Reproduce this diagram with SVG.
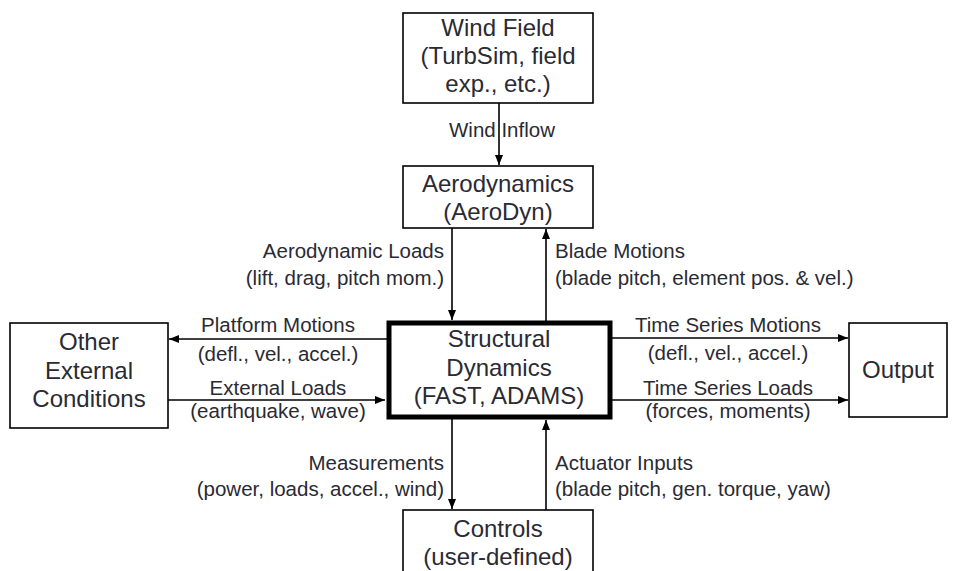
<svg xmlns="http://www.w3.org/2000/svg" width="962" height="571" viewBox="0 0 962 571">
<defs>
<marker id="ah" viewBox="0 0 10 8" refX="10" refY="4" markerWidth="10" markerHeight="8" markerUnits="userSpaceOnUse" orient="auto">
<path d="M0,0 L10,4 L0,8 Z" fill="#000"/>
</marker>
<style>
.box{fill:#fff;stroke:#000;stroke-width:1.6}
.thick{fill:#fff;stroke:#000;stroke-width:5}
.nt{font-family:"Liberation Sans",Arial,sans-serif;font-size:24px;fill:#2a2a33;text-anchor:middle}
.lb{font-family:"Liberation Sans",Arial,sans-serif;font-size:20.5px;fill:#2a2a33}
.c{text-anchor:middle}
.r{text-anchor:end}
.l{text-anchor:start}
.ln{stroke:#000;stroke-width:1.6;fill:none;marker-end:url(#ah)}
</style>
</defs>
<rect width="962" height="571" fill="#fff"/>
<g id="connectors">
<line class="ln" x1="499" y1="103" x2="499" y2="165"/>
<line class="ln" x1="452" y1="228" x2="452" y2="320"/>
<line class="ln" x1="546" y1="321" x2="546" y2="229"/>
<line class="ln" x1="387" y1="339" x2="169" y2="339"/>
<line class="ln" x1="168" y1="400" x2="385" y2="400"/>
<line class="ln" x1="611" y1="338" x2="848" y2="338"/>
<line class="ln" x1="611" y1="400" x2="848" y2="400"/>
<line class="ln" x1="452" y1="419" x2="452" y2="509"/>
<line class="ln" x1="546" y1="510" x2="546" y2="420"/>
<text class="lb c" x="502" y="137">Wind Inflow</text>
<text class="lb r" x="444" y="258">Aerodynamic Loads</text>
<text class="lb r" x="444" y="285">(lift, drag, pitch mom.)</text>
<text class="lb l" x="555" y="258">Blade Motions</text>
<text class="lb l" x="555" y="285">(blade pitch, element pos. &amp; vel.)</text>
<text class="lb c" x="278" y="332">Platform Motions</text>
<text class="lb c" x="278" y="361">(defl., vel., accel.)</text>
<text class="lb c" x="278" y="395">External Loads</text>
<text class="lb c" x="278" y="418">(earthquake, wave)</text>
<text class="lb c" x="728" y="332">Time Series Motions</text>
<text class="lb c" x="728" y="360">(defl., vel., accel.)</text>
<text class="lb c" x="728" y="395">Time Series Loads</text>
<text class="lb c" x="728" y="418">(forces, moments)</text>
<text class="lb r" x="444" y="470">Measurements</text>
<text class="lb r" x="444" y="496">(power, loads, accel., wind)</text>
<text class="lb l" x="555" y="470">Actuator Inputs</text>
<text class="lb l" x="555" y="496">(blade pitch, gen. torque, yaw)</text>
</g>
<g id="windfield">
<rect class="box" x="403" y="13" width="190" height="90"/>
<text class="nt" x="498" y="36">Wind Field</text>
<text class="nt" x="498" y="64">(TurbSim, field</text>
<text class="nt" x="498" y="92">exp., etc.)</text>
</g>
<g id="aerodynamics">
<rect class="box" x="403" y="166" width="190" height="62"/>
<text class="nt" x="498" y="192">Aerodynamics</text>
<text class="nt" x="498" y="220">(AeroDyn)</text>
</g>
<g id="structural">
<rect class="thick" x="389" y="323" width="221" height="94"/>
<text class="nt" x="499" y="347">Structural</text>
<text class="nt" x="499" y="376">Dynamics</text>
<text class="nt" x="499" y="404">(FAST, ADAMS)</text>
</g>
<g id="other">
<rect class="box" x="10" y="323" width="158" height="105"/>
<text class="nt" x="89" y="350">Other</text>
<text class="nt" x="89" y="379">External</text>
<text class="nt" x="89" y="407">Conditions</text>
</g>
<g id="output">
<rect class="box" x="849" y="323" width="98" height="94"/>
<text class="nt" x="898" y="378">Output</text>
</g>
<g id="controls">
<rect class="box" x="403" y="510" width="190" height="70"/>
<text class="nt" x="498" y="537">Controls</text>
<text class="nt" x="498" y="565">(user-defined)</text>
</g>
</svg>
